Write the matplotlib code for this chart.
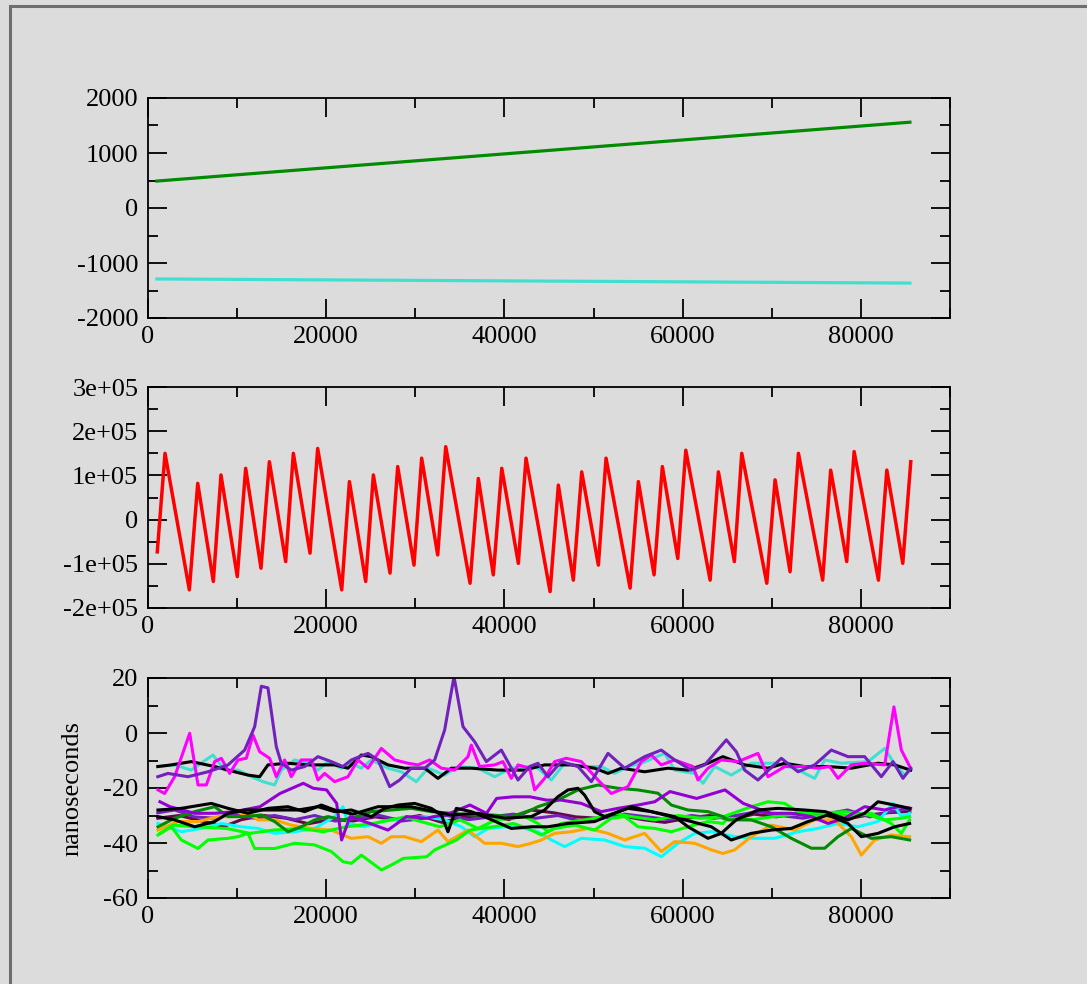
import matplotlib
matplotlib.use("Agg")
import matplotlib.pyplot as plt
from matplotlib.patches import Rectangle
from matplotlib.ticker import MultipleLocator, FuncFormatter

# ---------------------------------------------------------------------------
# Data
# ---------------------------------------------------------------------------

# top panel: two nearly straight lines
top_x = [1000, 85500]
green_top = [490, 1560]
turq_top = [-1290, -1365]

# middle panel: sawtooth (values in units of 1e5)
red_x = [1040, 1910, 4640, 5580, 7330, 8190, 10020, 10960, 12680, 13620,
         15450, 16310, 18180, 19040, 21740, 22600, 24430, 25290, 27160, 28020,
         29850, 30710, 32510, 33410, 36140, 37070, 38750, 39700, 41560, 42420,
         45120, 46050, 47730, 48670, 50540, 51400, 54100, 55030, 56790, 57720,
         59450, 60350, 63080, 64010, 65800, 66630, 69440, 70370, 72050, 72990,
         75710, 76610, 78410, 79240, 81970, 82910, 84700, 85600]
red_y = [-0.73, 1.50, -1.59, 0.82, -1.40, 1.01, -1.29, 1.16, -1.10, 1.31,
         -0.95, 1.50, -0.76, 1.61, -1.59, 0.86, -1.40, 1.01, -1.21, 1.20,
         -1.03, 1.39, -0.80, 1.65, -1.44, 0.93, -1.25, 1.16, -0.99, 1.39,
         -1.63, 0.78, -1.37, 1.08, -1.03, 1.39, -1.55, 0.86, -1.25, 1.20,
         -0.88, 1.57, -1.37, 1.08, -0.95, 1.50, -1.44, 0.90, -1.18, 1.50,
         -1.37, 1.12, -0.95, 1.54, -1.37, 1.12, -0.99, 1.31]

# bottom panel: nanoseconds, one (x, y) list per curve
indigo_hi = [(1100, -15.9), (2240, -14.7), (4490, -15.9), (6730, -14.1), (8980, -11.6),
             (10850, -6.2), (11970, 2.3), (12720, 17.0), (13460, 16.4), (14400, -5),
             (14960, -11), (16080, -13.5), (17580, -12.2), (19070, -8.6), (20570, -10.4),
             (21880, -12.2), (22820, -9.8), (24690, -7.4), (25810, -9.8), (27120, -19.5),
             (28240, -17.1), (29550, -12.8), (31050, -12.8), (32170, -9.8), (33290, 1.1),
             (34340, 20.5), (35350, 2.3), (36660, -3.2), (37970, -10.4), (39650, -6.2),
             (41520, -17.1), (42830, -12.2), (43760, -11), (44890, -15.9), (46380, -10.4),
             (48250, -12.2), (49750, -17.7), (51620, -7.4), (53490, -12.8), (55730, -8.6),
             (57600, -6.2), (59100, -9.8), (60970, -13.5), (62470, -11.6), (64900, -2.5),
             (66020, -6.8), (66960, -13.5), (68450, -17.1), (71070, -9.2), (72940, -14.1),
             (74810, -11.6), (76680, -6.2), (78550, -8.6), (80420, -8.6), (82290, -15.9),
             (83600, -10.4), (84720, -16.5), (85580, -12.8)]
magenta = [(1120, -20.7), (1870, -22), (2990, -15.9), (4680, -0.1), (5610, -18.9),
           (6550, -18.9), (7480, -10.4), (8230, -9.2), (9160, -14.7), (10100, -9.8),
           (11030, -9.2), (11780, -0.7), (12530, -6.8), (13650, -9.2), (14400, -15.9),
           (15330, -9.8), (16080, -15.9), (17200, -9.8), (18330, -9.8), (19070, -17.1),
           (19820, -14.7), (20940, -17.7), (22440, -15.9), (23560, -9.8), (24690, -12.8),
           (26180, -5.6), (27680, -9.8), (29180, -11), (30300, -11.6), (31610, -9.8),
           (32920, -12.8), (34410, -13.5), (35910, -8.6), (36280, -4.4), (37220, -12.2),
           (38900, -11.6), (39830, -10.4), (40770, -16.5), (41520, -11.6), (42830, -12.8),
           (43390, -20.7), (44510, -16.5), (45630, -10.4), (46940, -9.2), (48630, -10.4),
           (50500, -17.1), (51990, -22), (53860, -19.5), (55360, -10.4), (56480, -8),
           (57600, -11.6), (59100, -9.8), (61160, -12.2), (61720, -17.1), (62840, -12.8),
           (64340, -9.8), (66210, -10.4), (68450, -7.4), (69580, -15.9), (71450, -12.2),
           (73690, -12.2), (75190, -12.8), (76500, -12.2), (77430, -16.5), (78930, -11.6),
           (80420, -11), (82670, -11.6), (83710, 9.5), (84540, -6.2), (85580, -12.8)]
turquoise = [(1100, -12.2), (2990, -11.6), (4860, -13.5), (7290, -8), (8600, -13.5),
             (10100, -13.5), (11590, -15.9), (12900, -17.7), (14210, -18.9), (14960, -13.5),
             (16460, -9.8), (17950, -11), (19070, -13.5), (20200, -10.4), (21690, -12.8),
             (22820, -11), (23940, -12.8), (25060, -9.8), (26930, -12.8), (28430, -14.1),
             (30110, -17.7), (31420, -12.8), (33290, -15.3), (34790, -12.2), (37030, -12.8),
             (38900, -15.9), (40770, -12.8), (43010, -12.2), (43760, -12.8), (45260, -17.1),
             (46760, -11), (49000, -12.2), (50870, -12.2), (52370, -14.7), (53860, -12.2),
             (55360, -11), (57980, -7.4), (59100, -13.5), (61350, -14.7), (62280, -18.3),
             (63590, -12.2), (65460, -15.3), (67700, -11), (70320, -11), (72570, -12.8),
             (74810, -16.5), (75940, -9.8), (77810, -11), (80800, -10.4), (82670, -5.6),
             (83600, -10.4), (84910, -15.3), (85580, -13.5)]
black_hi = [(1100, -12.2), (2620, -11.6), (4860, -10.4), (7480, -12.2), (9720, -14.1),
            (11220, -15.3), (12530, -15.9), (13460, -11.6), (15710, -11), (17950, -11.6),
            (20940, -11.6), (22440, -12.8), (23940, -8), (25060, -8.6), (26930, -11.6),
            (28800, -12.8), (31050, -12.8), (32540, -16.5), (34040, -12.8), (36280, -12.8),
            (39270, -13.5), (42270, -13.5), (44510, -11.6), (47500, -11.6), (50120, -12.8),
            (51620, -14.7), (53120, -12.8), (55730, -14.1), (58350, -12.8), (60600, -13.5),
            (62840, -11), (64520, -8.6), (66960, -11.6), (69580, -12.8), (71450, -11),
            (73690, -12.2), (76310, -12.2), (78930, -12.8), (81920, -11), (83790, -11.6),
            (84910, -12.8), (85580, -13.5)]

lime_lo = [(1120, -37.1), (2620, -34.1), (3740, -38.9), (5610, -42), (6730, -38.9),
           (8980, -38.3), (10100, -37.7), (11220, -36.5), (11970, -42), (14210, -42),
           (16460, -40.1), (18700, -40.7), (20570, -43.1), (21880, -46.8), (22820, -47.4),
           (23940, -44.4), (26200, -49.8), (27310, -48), (28650, -45.6), (31270, -45),
           (32170, -42.5), (34630, -38.9), (36130, -35.3), (38740, -34.1), (40990, -32.9),
           (42640, -34.7), (44140, -37.1), (45630, -34.7), (47880, -33.5), (50120, -35.3),
           (51990, -31), (53490, -30.4), (54990, -34.1), (56860, -34.7), (58730, -35.9),
           (60600, -34.1), (62840, -32.2), (64520, -32.9), (65090, -31), (67700, -31.6),
           (70000, -30.5), (73320, -29.2), (75190, -30.4), (77060, -29.2), (78930, -30.4),
           (81170, -29.2), (83410, -32.9), (84540, -36.5), (85470, -31.6)]
lime_b = [(1340, -36.5), (2840, -33.5), (5460, -34.1), (8830, -34.7), (11440, -36.5),
          (14060, -35.3), (17050, -34.7), (19670, -35.9), (22290, -34.1), (25280, -32.9),
          (29020, -30.4), (29920, -31.6), (32760, -34.1), (35010, -31.6), (37030, -34.7),
          (39000, -31.6), (42270, -30.4), (43760, -32.9), (44890, -35.9), (46380, -32.9),
          (50120, -31), (52370, -29.2), (54240, -30.4), (56860, -31.6), (59500, -30),
          (62000, -31), (64500, -30.5), (67700, -26.8), (69580, -25), (71450, -25.6),
          (72940, -28.6), (75190, -29.2), (78180, -28.6), (80800, -29.8), (82670, -31.6),
          (84540, -31), (85470, -30.4)]
orange = [(1120, -35.3), (3370, -32.2), (5610, -32.2), (7850, -30.4), (10100, -30.4),
          (11220, -29.2), (12340, -31.6), (14210, -31.6), (16080, -33.5), (18330, -34.7),
          (20570, -35.3), (21880, -37.1), (22820, -38.3), (24690, -37.7), (26180, -40.1),
          (27310, -37.7), (28800, -37.7), (30670, -39.5), (32540, -35.3), (33660, -39.5),
          (35910, -35.3), (37780, -40.1), (39650, -40.1), (41520, -41.3), (43010, -40.1),
          (44140, -38.9), (45630, -36.5), (47500, -35.9), (49370, -34.7), (51620, -36.5),
          (53490, -38.9), (55730, -36.5), (57600, -43.1), (59100, -39.5), (61350, -40.1),
          (63220, -42.5), (64520, -43.8), (65840, -42.5), (67700, -37.7), (69950, -33.5),
          (72570, -35.3), (74810, -31.6), (77060, -31.6), (78930, -37.7), (80050, -44.4),
          (81540, -38.9), (83410, -37.1), (85470, -37.7)]
cyan = [(1120, -32.9), (3740, -35.9), (5980, -34.7), (8230, -32.9), (10470, -34.1),
        (12340, -34.7), (14210, -36.5), (16460, -35.9), (18700, -34.7), (20940, -30.4),
        (21880, -26.8), (22440, -32.9), (24310, -34.1), (26180, -32.2), (28800, -31),
        (31050, -30.4), (33290, -31.6), (35160, -34.1), (36660, -37.7), (38150, -34.7),
        (40020, -34.1), (42270, -34.7), (43760, -35.9), (45260, -38.9), (46760, -41.3),
        (48630, -38.3), (51240, -38.9), (53490, -41.3), (55730, -41.9), (57600, -45),
        (59470, -40.1), (61350, -36.5), (63220, -35.9), (65840, -37.7), (68080, -38.3),
        (70320, -38.3), (72940, -35.9), (75190, -34.7), (77430, -32.9), (79670, -34.1),
        (81920, -32.2), (83600, -25.6), (84540, -30.4), (85470, -29.2)]
green4 = [(1120, -34.1), (2990, -31), (5240, -28.6), (7480, -26.8), (8980, -30.4),
          (10850, -30.4), (12720, -29.8), (14210, -32.2), (15710, -35.9), (17200, -34.1),
          (18700, -31.6), (20200, -30.4), (21880, -31.6), (22820, -31), (25060, -28.6),
          (27310, -28), (29550, -27.4), (31790, -28.6), (34040, -29.2), (36280, -29.8),
          (38530, -29.8), (40770, -30.4), (43010, -28), (43760, -26.8), (45990, -24.4),
          (48250, -20.7), (50500, -18.9), (52740, -20.1), (54980, -20.7), (57230, -21.9),
          (58730, -26.2), (60600, -28), (62840, -28.6), (64520, -30.4), (65090, -31.6),
          (67700, -31.6), (69950, -34.1), (72190, -38.3), (74440, -41.9), (75940, -41.9),
          (77430, -37.7), (78930, -34.7), (81170, -38.3), (83410, -37.7), (85470, -38.9)]
violet = [(1340, -25), (2470, -26.8), (5240, -29.2), (7480, -29.2), (9720, -28.6),
          (12560, -26.8), (14810, -22), (17430, -18.3), (18550, -20.1), (20040, -20.7),
          (21170, -25.6), (21730, -38.9), (22670, -30.4), (24900, -32.9), (26930, -35.3),
          (29020, -30.4), (31270, -31), (33880, -29.2), (36130, -26.2), (37990, -29.2),
          (39120, -23.8), (40990, -23.2), (42860, -23.2), (44730, -24.4), (46380, -24.4),
          (48630, -25.6), (50870, -28.6), (52740, -27.4), (54980, -26.2), (56860, -25),
          (58580, -21.3), (61570, -23.8), (64750, -20.7), (66800, -25.6), (68300, -27.4),
          (69950, -29.2), (72190, -29.2), (74440, -30.4), (76310, -32.9), (78180, -31),
          (80420, -26.8), (82670, -28), (84160, -26.8), (85580, -27.4)]
indigo_lo = [(1100, -29), (3000, -28), (5200, -30.5), (7500, -31), (9700, -29.5),
             (12000, -31), (14200, -30), (16500, -31.5), (18700, -30), (21000, -32),
             (23500, -31), (26000, -30), (28500, -32), (31000, -31), (33500, -30),
             (36000, -31.5), (38500, -30.5), (41000, -29.5), (43500, -31), (46000, -30),
             (48500, -32), (51000, -31), (53500, -29.5), (56000, -30.5), (58500, -31.5),
             (61000, -30), (63500, -31), (66000, -30), (68500, -28.5), (71000, -30),
             (73500, -31), (76000, -29.5), (78500, -28), (81000, -30.5), (83500, -28.5),
             (85500, -27.5)]
maroon = [(1100, -31), (3500, -30), (6000, -32), (8500, -34), (10500, -31.5),
          (13000, -30), (15500, -31), (18000, -33), (20500, -31.5), (23000, -32),
          (25500, -30.5), (28000, -31.5), (30500, -30), (33000, -32.5), (35500, -30.5),
          (38000, -30), (40500, -31.5), (43000, -28), (45500, -29), (48000, -30.5),
          (50500, -31), (53000, -30), (55500, -31.5), (58000, -32.5), (60500, -31),
          (63000, -30), (65500, -31.5), (68000, -29.5), (70500, -30.5), (73000, -29),
          (75500, -29.5), (78000, -31.5), (80500, -30), (83000, -29), (85500, -28.5)]
black_a = [(1120, -30.4), (2990, -31.6), (5240, -34.1), (7480, -32.2), (8980, -29.2),
           (10850, -28), (12720, -28), (14960, -28), (16830, -28), (19070, -26.8),
           (20940, -28.6), (22820, -28), (25060, -30.4), (26560, -27.4), (28050, -26.2),
           (29920, -25.6), (31790, -27.4), (32920, -29.8), (33660, -35.9), (34600, -27.4),
           (36280, -28.6), (38150, -31), (40770, -34.7), (43010, -34.1), (44890, -34.1),
           (47130, -32.9), (50120, -32.2), (52370, -29.2), (54240, -26.8), (56480, -28.6),
           (58730, -30.4), (60970, -32.2), (63220, -34.1), (65460, -38.9), (67700, -36.5),
           (69950, -35.3), (72190, -34.7), (74060, -32.2), (76310, -29.8), (78550, -32.9),
           (80050, -37.7), (81920, -36.5), (83790, -34.1), (85470, -32.9)]
black_b = [(1120, -28), (3740, -27.4), (7110, -25.6), (8980, -27.4), (11220, -29.2),
           (13460, -27.4), (15710, -26.8), (17580, -28.6), (19450, -26.2), (20940, -28),
           (23000, -29.5), (25810, -26.8), (29500, -26.8), (34040, -29.8), (37030, -29.2),
           (40020, -31), (43010, -30.4), (44500, -28), (45990, -23.2), (47130, -20.7),
           (48250, -20.1), (49000, -22.6), (50120, -28.6), (51240, -30.4), (53860, -27.4),
           (56480, -28.6), (59100, -30.4), (60600, -34.1), (62840, -38.3), (64330, -36.5),
           (66000, -31.6), (68450, -28), (70700, -27.4), (73690, -28), (76000, -28.6),
           (78550, -31.6), (80420, -29.2), (81920, -25), (83790, -26.2), (85470, -27.4)]

# drawing order / colours (xmgrace palette)
bottom_series = [
    (maroon, "#670748"), (indigo_lo, "#7221bc"), (cyan, "#00ffff"),
    (orange, "#ffa500"), (lime_lo, "#00ff00"), (lime_b, "#00ff00"),
    (green4, "#008b00"), (violet, "#9400d3"), (black_a, "black"),
    (black_b, "black"), (turquoise, "#40e0d0"), (black_hi, "black"),
    (magenta, "#ff00ff"), (indigo_hi, "#7221bc"),
]

# ---------------------------------------------------------------------------
# Figure
# ---------------------------------------------------------------------------
plt.rcParams["font.family"] = ["Liberation Serif", "DejaVu Serif"]
plt.rcParams["axes.unicode_minus"] = False

BG = "#dcdcdc"
W, H = 1087, 984
fig = plt.figure(figsize=(W / 100, H / 100), dpi=100, facecolor=BG)

# outer frame (left and top edges visible only)
fig.patches.append(Rectangle((10 / W, -0.05), 1.2, 1 - 6 / H + 0.05,
                             transform=fig.transFigure, fill=False,
                             edgecolor="#6e6e6e", linewidth=2.2, zorder=0))

left, width = 148 / W, (950 - 148) / W


def make_axes(top_px, bot_px):
    ax = fig.add_axes([left, 1 - bot_px / H, width, (bot_px - top_px) / H])
    ax.set_facecolor(BG)
    for sp in ax.spines.values():
        sp.set_linewidth(1.3)
    ax.set_xlim(0, 90000)
    ax.xaxis.set_major_locator(MultipleLocator(20000))
    ax.xaxis.set_minor_locator(MultipleLocator(10000))
    ax.tick_params(which="both", direction="in", top=True, right=True,
                   labelsize=19, width=1.3, colors="black")
    ax.tick_params(which="major", length=14, pad=6)
    ax.tick_params(which="minor", length=7)
    ax.tick_params(axis="y", which="major", pad=7)
    return ax


# top panel
ax1 = make_axes(98, 318)
ax1.plot(top_x, green_top, color="#008b00", lw=2.3)
ax1.plot(top_x, turq_top, color="#40e0d0", lw=2.3)
ax1.set_ylim(-2000, 2000)
ax1.yaxis.set_major_locator(MultipleLocator(1000))
ax1.yaxis.set_minor_locator(MultipleLocator(500))

# middle panel
ax2 = make_axes(387, 608)
ax2.plot(red_x, [v * 1e5 for v in red_y], color="#ff0000", lw=2.5)
ax2.set_ylim(-2e5, 3e5)
ax2.yaxis.set_major_locator(MultipleLocator(1e5))
ax2.yaxis.set_minor_locator(MultipleLocator(5e4))
ax2.yaxis.set_major_formatter(
    FuncFormatter(lambda v, p: "0" if abs(v) < 1 else f"{v:.0e}"))

# bottom panel
ax3 = make_axes(678, 898)
for pts, col in bottom_series:
    xs, ys = zip(*pts)
    ax3.plot(xs, ys, color=col, lw=2.2)
ax3.set_ylim(-60, 20)
ax3.yaxis.set_major_locator(MultipleLocator(20))
ax3.yaxis.set_minor_locator(MultipleLocator(10))
ax3.set_ylabel("nanoseconds", fontsize=19, labelpad=14)

fig.savefig("out.png", dpi=100, facecolor=BG)
